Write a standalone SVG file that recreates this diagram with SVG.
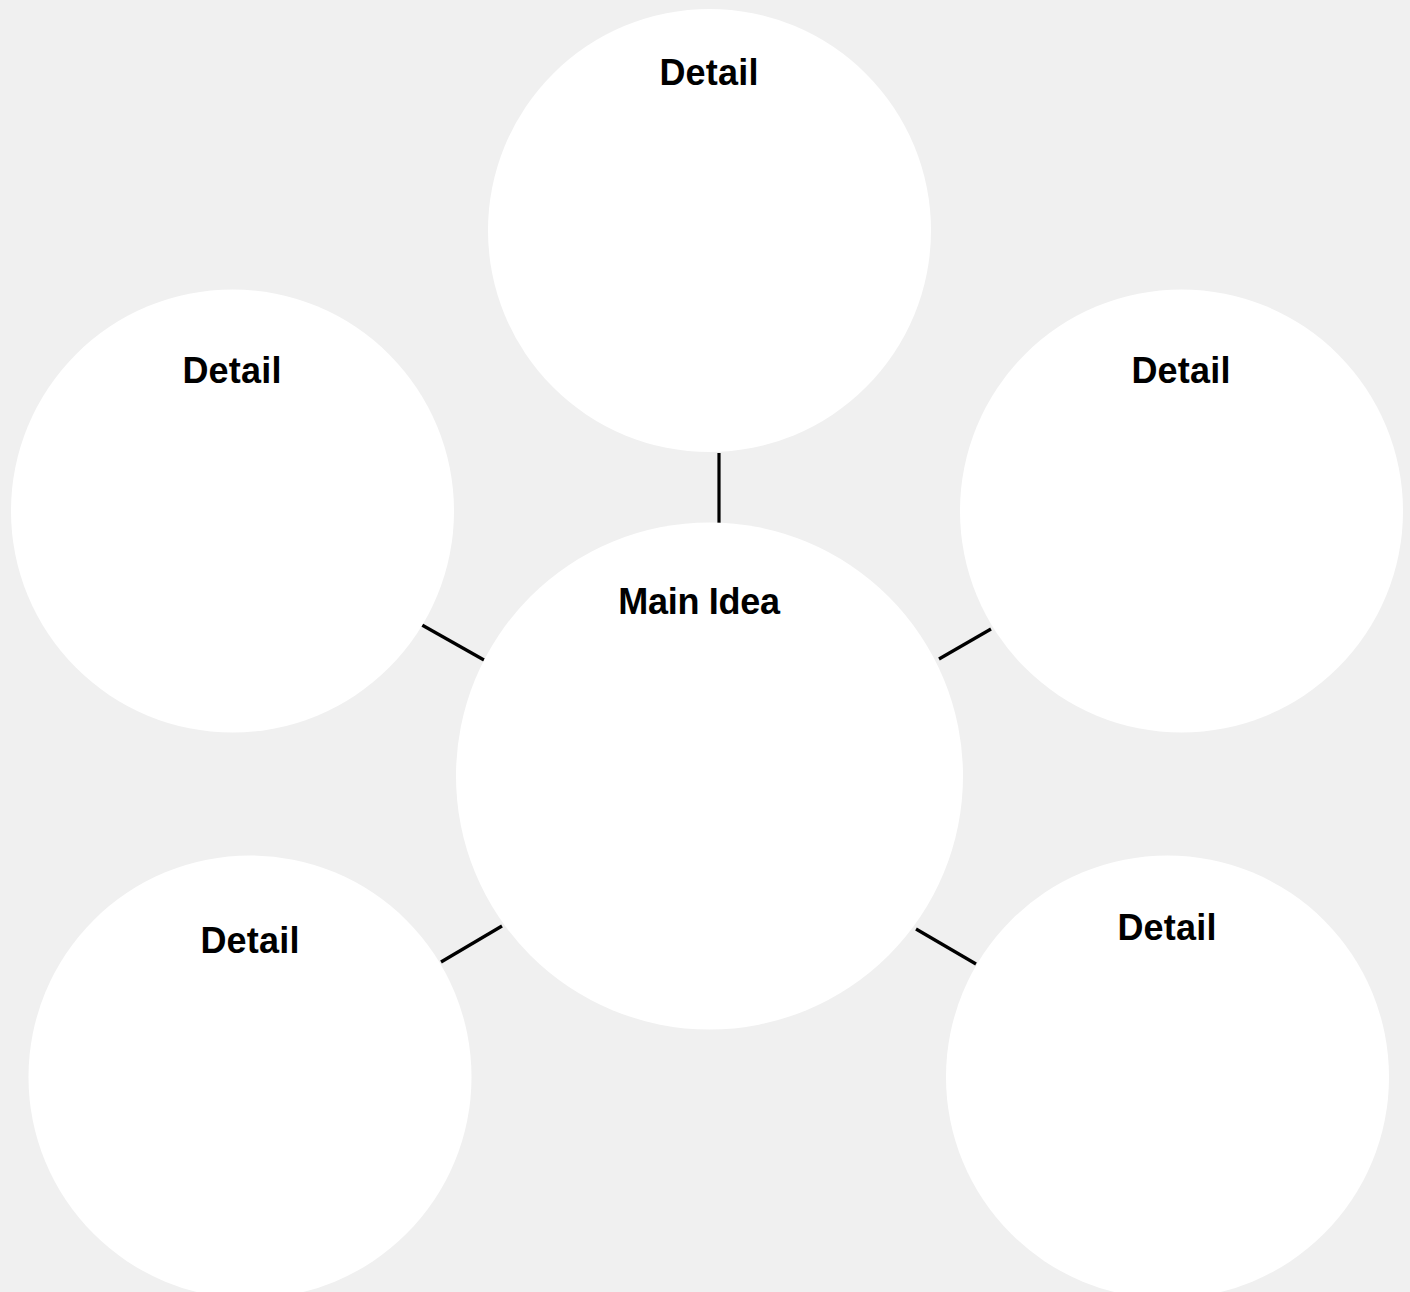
<svg xmlns="http://www.w3.org/2000/svg" width="1410" height="1292" viewBox="0 0 1410 1292">
<style>
.bubble{fill:#ffffff;stroke:none}
.lbl{font-family:"Liberation Sans",Arial,sans-serif;font-weight:bold;font-size:36px;fill:#000;text-anchor:middle;letter-spacing:0.2px}
.main{letter-spacing:-0.3px}
.conn{stroke:#000;stroke-width:3.2;fill:none}
</style>
<rect x="0" y="0" width="1410" height="1292" fill="#f0f0f0"/>
<g id="connectors">
<line class="conn" x1="719" y1="453" x2="719" y2="523"/>
<line class="conn" x1="422" y1="625" x2="484" y2="660"/>
<line class="conn" x1="939" y1="659" x2="991" y2="629"/>
<line class="conn" x1="441" y1="962" x2="502" y2="926"/>
<line class="conn" x1="916" y1="929" x2="976" y2="964"/>
</g>
<g id="detail-top">
<circle class="bubble" cx="709.5" cy="230.5" r="221.5"/>
<text class="lbl" x="709" y="85">Detail</text>
</g>
<g id="detail-left">
<circle class="bubble" cx="232.5" cy="511" r="221.5"/>
<text class="lbl" x="232" y="383">Detail</text>
</g>
<g id="detail-right">
<circle class="bubble" cx="1181.5" cy="511" r="221.5"/>
<text class="lbl" x="1181" y="383">Detail</text>
</g>
<g id="detail-bottom-left">
<circle class="bubble" cx="250" cy="1077" r="221.5"/>
<text class="lbl" x="250" y="953">Detail</text>
</g>
<g id="detail-bottom-right">
<circle class="bubble" cx="1167.5" cy="1077" r="221.5"/>
<text class="lbl" x="1167" y="940">Detail</text>
</g>
<g id="main-idea">
<circle class="bubble" cx="709.5" cy="776" r="253.5"/>
<text class="lbl main" x="699" y="614">Main Idea</text>
</g>
</svg>
